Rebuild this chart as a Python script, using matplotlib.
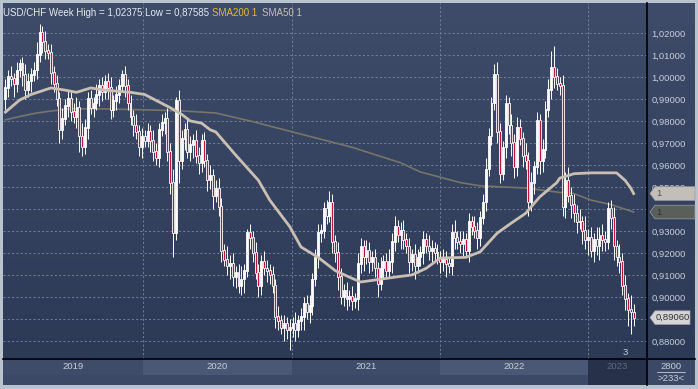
import numpy as np
import pandas as pd
import matplotlib
matplotlib.use('Agg')
import matplotlib.pyplot as plt
import matplotlib.dates as mdates
from matplotlib.patches import Polygon
from matplotlib.colors import LinearSegmentedColormap
from matplotlib.transforms import blended_transform_factory

# %%
## Data ##

closes = [
    0.995, 1.000, 0.999, 0.997, 1.003, 1.006, 1.001, 0.994, 0.998, 1.001,
    1.003, 1.010, 1.020, 1.016, 1.012, 1.011, 1.002, 0.997, 0.990, 0.976,
    0.981, 0.987, 0.990, 0.984, 0.982, 0.986, 0.973, 0.968, 0.977, 0.990,
    0.986, 0.988, 0.992, 0.996, 0.993, 0.998, 0.995, 0.985, 0.989, 0.992,
    0.996, 1.001, 0.996, 0.988, 0.982, 0.978, 0.975, 0.968, 0.973, 0.971,
    0.975, 0.971, 0.966, 0.963, 0.976, 0.979, 0.981, 0.966, 0.952, 0.929,
    0.989, 0.962, 0.972, 0.976, 0.966, 0.969, 0.971, 0.964, 0.961, 0.971,
    0.962, 0.953, 0.955, 0.946, 0.949, 0.941, 0.921, 0.917, 0.914, 0.915,
    0.909, 0.911, 0.905, 0.908, 0.912, 0.929, 0.927, 0.920, 0.911, 0.905,
    0.916, 0.913, 0.912, 0.910, 0.905, 0.891, 0.889, 0.886, 0.888, 0.885,
    0.886, 0.888, 0.885, 0.889, 0.891, 0.897, 0.893, 0.896, 0.908, 0.918,
    0.929, 0.930, 0.940, 0.937, 0.943, 0.925, 0.920, 0.909, 0.900, 0.903,
    0.899, 0.900, 0.898, 0.899, 0.915, 0.923, 0.918, 0.921, 0.916, 0.918,
    0.913, 0.906, 0.913, 0.916, 0.912, 0.916, 0.925, 0.932, 0.928, 0.930,
    0.926, 0.923, 0.916, 0.919, 0.914, 0.918, 0.920, 0.926, 0.923, 0.921,
    0.922, 0.920, 0.918, 0.916, 0.917, 0.915, 0.914, 0.929, 0.927, 0.925,
    0.924, 0.926, 0.921, 0.934, 0.932, 0.930, 0.927, 0.936, 0.943, 0.958,
    0.973, 0.988, 1.001, 0.975, 0.956, 0.968, 0.988, 0.978, 0.970, 0.959,
    0.977, 0.972, 0.964, 0.962, 0.943, 0.952, 0.959, 0.980, 0.962, 0.967,
    0.985, 0.994, 1.004, 1.000, 0.997, 0.996, 0.941, 0.953, 0.946, 0.942,
    0.938, 0.934, 0.934, 0.930, 0.926, 0.927, 0.921, 0.926, 0.923, 0.928,
    0.926, 0.925, 0.940, 0.936, 0.923, 0.918, 0.916, 0.905, 0.899, 0.894,
    0.893, 0.8906,
]
first_open = 0.990

# wick lengths above / below the body, in thousandths
wick_up = [
    4, 3, 5, 3, 4, 2, 3, 5, 4, 3,
    4, 6, 4, 3, 5, 3, 4, 3, 4, 3,
    5, 3, 4, 3, 4, 5, 3, 6, 4, 3,
    4, 3, 5, 3, 4, 3, 4, 5, 3, 4,
    3, 2, 4, 3, 4, 3, 5, 3, 4, 3,
    4, 3, 5, 4, 3, 4, 3, 5, 4, 6,
    2, 5, 4, 3, 6, 4, 3, 5, 4, 3,
    4, 3, 5, 3, 4, 5, 4, 3, 6, 4,
    5, 3, 4, 6, 3, 2, 4, 3, 5, 4,
    3, 5, 4, 3, 4, 3, 5, 3, 4, 3,
    4, 3, 5, 3, 4, 3, 4, 5, 3, 4,
    4, 3, 3, 4, 5, 4, 3, 5, 4, 3,
    4, 3, 5, 3, 5, 4, 3, 5, 4, 3,
    4, 3, 5, 3, 4, 6, 4, 5, 3, 4,
    5, 3, 4, 3, 5, 4, 3, 4, 3, 5,
    4, 3, 4, 3, 5, 4, 3, 4, 6, 3,
    5, 4, 3, 4, 3, 5, 4, 3, 4, 5,
    4, 3, 5, 6, 4, 3, 4, 3, 5, 4,
    5, 4, 3, 6, 4, 5, 3, 4, 3, 5,
    4, 5, 8, 10, 4, 3, 5, 4, 6, 4,
    5, 4, 6, 3, 7, 4, 5, 3, 6, 4,
    5, 4, 3, 4, 5, 3, 6, 4, 5, 3,
    7, 4,
]
wick_dn = [
    5, 4, 3, 6, 4, 3, 5, 4, 3, 5,
    3, 4, 3, 5, 4, 3, 5, 4, 3, 6,
    4, 3, 5, 4, 3, 5, 7, 4, 3, 5,
    3, 4, 3, 5, 4, 3, 5, 4, 3, 4,
    4, 3, 5, 3, 4, 5, 3, 4, 5, 3,
    3, 5, 4, 3, 4, 3, 5, 4, 5, 11,
    3, 10, 4, 5, 3, 4, 6, 3, 5, 4,
    3, 5, 4, 6, 3, 4, 5, 3, 4, 6,
    4, 5, 3, 4, 6, 3, 5, 4, 3, 5,
    4, 3, 5, 4, 3, 5, 4, 3, 6, 4,
    9, 4, 5, 3, 4, 6, 3, 5, 4, 3,
    5, 4, 3, 4, 3, 5, 4, 6, 3, 4,
    5, 3, 4, 3, 5, 4, 6, 3, 5, 4,
    4, 6, 3, 5, 4, 3, 5, 4, 3, 6,
    4, 3, 5, 4, 6, 3, 4, 5, 3, 4,
    5, 4, 3, 5, 4, 6, 3, 4, 5, 3,
    4, 6, 3, 5, 4, 3, 5, 4, 3, 4,
    3, 4, 3, 5, 4, 3, 5, 4, 6, 5,
    4, 3, 5, 4, 6, 4, 5, 3, 6, 5,
    4, 3, 4, 5, 3, 4, 4, 5, 3, 6,
    4, 5, 3, 6, 4, 7, 3, 5, 4, 6,
    5, 4, 3, 5, 6, 4, 5, 4, 5, 7,
    10, 4,
]

# moving averages (week index, value)
sma50_weeks = [0, 5, 9, 16, 21, 25, 30, 35, 44, 49, 55, 58, 62, 65, 69, 72, 74, 81,
               89, 93, 100, 104, 110, 116, 121, 125, 130, 137, 143, 148, 153, 162,
               167, 173, 178, 183, 188, 194, 195, 200, 206, 211, 215, 218, 220, 221]
sma50_vals = [0.984, 0.9895, 0.992, 0.995, 0.994, 0.993, 0.995, 0.994, 0.993, 0.992,
              0.988, 0.986, 0.983, 0.980, 0.979, 0.976, 0.975, 0.9645, 0.953, 0.944,
              0.932, 0.9227, 0.918, 0.912, 0.909, 0.9068, 0.9077, 0.909, 0.910, 0.913,
              0.9177, 0.918, 0.9205, 0.929, 0.9336, 0.938, 0.9455, 0.952, 0.954,
              0.956, 0.9564, 0.9564, 0.9564, 0.953, 0.9495, 0.947]

sma200_weeks = [0, 5, 11, 16, 23, 33, 51, 63, 74, 86, 104, 122, 139, 146, 160, 167,
                183, 195, 200, 206, 213, 221]
sma200_vals = [0.9805, 0.982, 0.9836, 0.9845, 0.9855, 0.9855, 0.985, 0.9845, 0.9836,
               0.980, 0.974, 0.968, 0.961, 0.9568, 0.952, 0.9505, 0.9495, 0.9475,
               0.947, 0.944, 0.942, 0.9386]

years = ['2019', '2020', '2021', '2022', '2023']
y_ticks = [0.88, 0.89, 0.90, 0.91, 0.92, 0.93, 0.94, 0.95, 0.96, 0.97, 0.98, 0.99,
           1.00, 1.01, 1.02]
title_text = 'USD/CHF Week High = 1,02375 Low = 0,87585'

# %%
## Prepare candles ##

week_dates = pd.date_range('2019-01-27', periods=len(closes), freq='W-SUN')
closes = np.array(closes)
opens = np.r_[first_open, closes[:-1]]
highs = np.maximum(opens, closes) + np.array(wick_up) / 1000
lows = np.minimum(opens, closes) - np.array(wick_dn) / 1000
x = mdates.date2num(week_dates)

# %%
## Figure ##

W, H = 698, 389
plt.rcParams['font.family'] = ['Liberation Sans', 'DejaVu Sans']
TXT = '#c5cdd9'

def box(x0, y0, x1, y1):
    return [x0 / W, 1 - y1 / H, (x1 - x0) / W, (y1 - y0) / H]

def bare(a):
    a.set_xticks([])
    a.set_yticks([])
    for s in a.spines.values():
        s.set_visible(False)

fig = plt.figure(figsize=(W / 100, H / 100), dpi=100)
fig.patch.set_facecolor('#b9c3cf')

# gradient background for plot and price column
bg = fig.add_axes(box(3, 3, 695, 359))
cmap = LinearSegmentedColormap.from_list('bg', ['#3e4c6a', '#2c3a56'])
bg.imshow(np.linspace(0, 1, 256).reshape(-1, 1), cmap=cmap, aspect='auto',
          extent=[0, 1, 0, 1])
bg.axis('off')

ax = fig.add_axes(box(3, 3, 647, 359))
ax.patch.set_alpha(0)
xlim = (mdates.date2num(pd.Timestamp('2019-01-21')), mdates.date2num(pd.Timestamp('2023-05-26')))
ax.set_xlim(xlim)
ax.set_ylim(0.8718, 1.0336)

grid_kw = dict(color='#6f7d9a', lw=0.7, ls=(0, (2.2, 2.2)), zorder=1)
for t in y_ticks:
    ax.axhline(t, **grid_kw)
for yr in years[1:]:
    ax.axvline(mdates.date2num(pd.Timestamp(yr + '-01-01')), **grid_kw)

# moving averages
ax.plot(x[sma200_weeks], sma200_vals, color='#77746a', lw=1.2, zorder=2)
ax.plot(x[sma50_weeks], sma50_vals, color='#c9c0b3', lw=2.0, zorder=4)

# candles
down = closes < opens
ax.vlines(x, lows, highs, color='white', lw=0.7, zorder=3)
ax.bar(x, np.abs(closes - opens) + 0.0003, bottom=np.minimum(opens, closes),
       width=4.8, color=np.where(down, '#c0143c', 'white'),
       edgecolor='white', linewidth=0.6, zorder=3)

# price labels; the ones hidden under the tags are left blank
hidden = {0.89, 0.94}
ax.yaxis.tick_right()
ax.set_yticks(y_ticks)
ax.set_yticklabels(['' if t in hidden else f'{t:.5f}'.replace('.', ',') for t in y_ticks])
ax.tick_params(axis='y', length=0, pad=3, labelsize=6.8, labelcolor=TXT)
ax.set_xticks([])
for s in ax.spines.values():
    s.set_visible(False)

# value tags on the price column
trans = blended_transform_factory(ax.transAxes, ax.transData)
def tag(val, color, text, tcolor, right):
    h = 0.0031
    x0, x1, xr = 1 + 3 / 644, 1 + 8 / 644, 1 + right / 644
    poly = Polygon([(x0, val), (x1, val + h), (xr, val + h), (xr, val - h), (x1, val - h)],
                   closed=True, transform=trans, clip_on=False, facecolor=color,
                   edgecolor='#9aa0a8', lw=0.5, zorder=6)
    ax.add_patch(poly)
    ax.text(x1 + 1 / 644, val, text, transform=trans, ha='left', va='center',
            fontsize=6.8, color=tcolor, zorder=7, clip_on=False)

tag(sma50_vals[-1], '#c4beb8', '1', '#555555', 48)
tag(sma200_vals[-1], '#59605a', '1', '#2a2f2c', 48)
tag(closes[-1], '#d4d4d4', f'{closes[-1]:.5f}'.replace('.', ','), '#333333', 43)

# legend line at the top
ax.text(0.0, 0.985, title_text, transform=ax.transAxes, fontsize=7,
        color='#e6e9ee', ha='left', va='top', zorder=8)
ax.text(209 / 644, 0.985, 'SMA200 1', transform=ax.transAxes, fontsize=7,
        color='#e8b830', ha='left', va='top', zorder=8)
ax.text(259 / 644, 0.985, 'SMA50 1', transform=ax.transAxes, fontsize=7,
        color='#c8c0b4', ha='left', va='top', zorder=8)
ax.text(622 / 644, 0.005, '3', transform=ax.transAxes, fontsize=6.8,
        color=TXT, ha='center', va='bottom', zorder=8)

# year band below the plot
band = fig.add_axes(box(3, 359, 647, 385))
band.set_facecolor('#3c4966')
band.set_xlim(xlim)
band.set_ylim(0, 1)
band_colors = ['#3f4c69', '#4b5875', '#3f4c69', '#4b5875', '#27324a']
for i, yr in enumerate(years):
    a = max(mdates.date2num(pd.Timestamp(yr + '-01-01')), xlim[0])
    b = min(mdates.date2num(pd.Timestamp(str(int(yr) + 1) + '-01-01')), xlim[1])
    lo = 0.0 if yr == '2023' else 0.38
    band.axvspan(a, b, lo, 1, color=band_colors[i], lw=0)
    band.text((a + b) / 2, 0.7, yr, ha='center', va='center', fontsize=6.8,
              color='#5c6884' if yr == '2023' else TXT)
bare(band)

side = fig.add_axes(box(647, 359, 695, 385))
side.set_facecolor('#3c4966')
side.set_xlim(0, 1)
side.set_ylim(0, 1)
side.text(0.5, 0.72, '2800', ha='center', va='center', fontsize=6.8, color=TXT)
side.axhline(0.5, xmin=0.2, xmax=0.8, color=TXT, lw=0.6)
side.text(0.5, 0.25, '>233<', ha='center', va='center', fontsize=6.8, color=TXT)
bare(side)

# dividers
fig.add_artist(plt.Line2D([3 / W, 695 / W], [1 - 359 / H] * 2, color='black', lw=1.2))
fig.add_artist(plt.Line2D([647 / W] * 2, [1 - 3 / H, 1 - 385 / H], color='black', lw=1.2))

fig.savefig('out.png', dpi=100, facecolor=fig.get_facecolor())
